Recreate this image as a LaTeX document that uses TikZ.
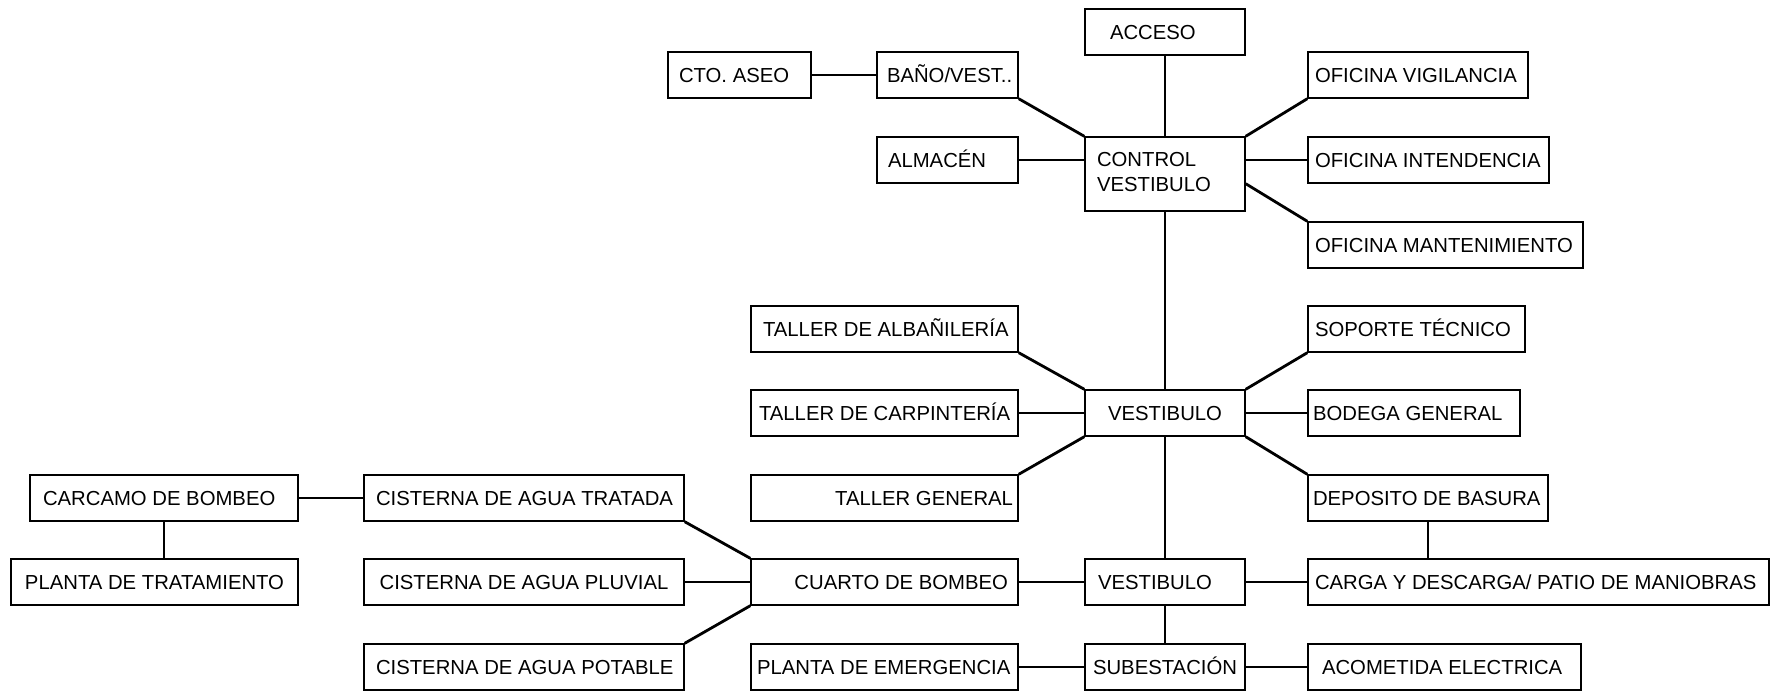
\documentclass[tikz,border=0pt]{standalone}
\usepackage{fontspec}
\setmainfont{Liberation Sans}
\tikzset{
  room/.style={draw, rectangle, line width=1.4pt, inner xsep=0pt, inner ysep=0pt,
    minimum height=46pt, text height=14.5pt, text depth=0pt,
    font=\fontsize{20.3pt}{25pt}\selectfont},
  roomtall/.style={draw, rectangle, line width=1.4pt, inner xsep=0pt, inner ysep=0pt,
    font=\fontsize{20.3pt}{25pt}\selectfont},
  link/.style={line width=2.8pt}
}
% name, cx, cy, W, H, text width, align (l/r/c), text
\newcommand\roomnode[8]{\node[room, minimum width=#4pt, minimum height=#5pt] (#1) at (#2,#3) {\makebox[#6pt][#7]{#8}};}
\begin{document}
\begin{tikzpicture}[x=1pt,y=-1pt]
\useasboundingbox (0,0) rectangle (1777,693);
\fill[white] (0,0) rectangle (1777,693);

% top group
\roomnode{cto}{739.5}{75}{143}{46}{121}{l}{CTO. ASEO}
\roomnode{bano}{947.5}{75}{141}{46}{121}{l}{BAÑO/VEST..}
\roomnode{acceso}{1165}{32}{160}{46}{110}{l}{ACCESO}
\roomnode{vigil}{1418}{75}{220}{46}{206}{l}{OFICINA VIGILANCIA}
\roomnode{almacen}{947.5}{160}{141}{46}{119}{l}{ALMACÉN}
\node[roomtall, minimum width=160pt, minimum height=74pt] (control) at (1165,174)
  {\makebox[136pt][l]{\begin{tabular}{@{}l@{}}CONTROL\\VESTIBULO\end{tabular}}};
\roomnode{intend}{1428.5}{160}{241}{46}{227}{l}{OFICINA INTENDENCIA}
\roomnode{mant}{1445.5}{245}{275}{46}{261}{l}{OFICINA MANTENIMIENTO}

% middle group
\roomnode{alba}{884.5}{329}{267}{46}{243}{l}{TALLER DE ALBAÑILERÍA}
\roomnode{soporte}{1416.5}{329}{217}{46}{203}{l}{SOPORTE TÉCNICO}
\roomnode{carp}{884.5}{413}{267}{46}{251}{l}{TALLER DE CARPINTERÍA}
\roomnode{vestA}{1165}{413}{160}{46}{160}{c}{VESTIBULO}
\roomnode{bodega}{1414}{413}{212}{46}{202}{l}{BODEGA GENERAL}
\roomnode{tgen}{884.5}{498}{267}{46}{257}{r}{TALLER GENERAL}
\roomnode{depos}{1428}{498}{240}{46}{230}{l}{DEPOSITO DE BASURA}

% lower group
\roomnode{carcamo}{164}{498}{268}{46}{242}{l}{CARCAMO DE BOMBEO}
\roomnode{tratada}{524}{498}{320}{46}{296}{l}{CISTERNA DE AGUA TRATADA}
\roomnode{ptrat}{154.5}{582}{287}{46}{287}{c}{PLANTA DE TRATAMIENTO}
\roomnode{pluvial}{524}{582}{320}{46}{320}{c}{CISTERNA DE AGUA PLUVIAL}
\roomnode{cuarto}{884.5}{582}{267}{46}{247}{r}{CUARTO DE BOMBEO}
\roomnode{vestB}{1165}{582}{160}{46}{134}{l}{VESTIBULO}
\roomnode{carga}{1538.5}{582}{461}{46}{447}{l}{CARGA Y DESCARGA/ PATIO DE MANIOBRAS}
\roomnode{potable}{524}{667}{320}{46}{296}{l}{CISTERNA DE AGUA POTABLE}
\roomnode{pemerg}{884.5}{667}{267}{46}{255}{l}{PLANTA DE EMERGENCIA}
\roomnode{subest}{1165}{667}{160}{46}{160}{c}{SUBESTACIÓN}
\roomnode{acomet}{1444.5}{667}{273}{46}{245}{l}{ACOMETIDA ELECTRICA}

% connectors: top
\draw[link] (cto.east) -- (bano.west);
\draw[link] (bano.south east) -- (control.north west);
\draw[link] (almacen.east) -- (almacen.east -| control.west);
\draw[link] (acceso.south) -- (control.north);
\draw[link] (control.north east) -- (vigil.south west);
\draw[link] (intend.west) -- (intend.west -| control.east);
\draw[link] (intend.south west -| control.east) -- (mant.north west);
\draw[link] (control.south) -- (vestA.north);

% connectors: middle
\draw[link] (alba.south east) -- (vestA.north west);
\draw[link] (carp.east) -- (vestA.west);
\draw[link] (tgen.north east) -- (vestA.south west);
\draw[link] (vestA.north east) -- (soporte.south west);
\draw[link] (vestA.east) -- (bodega.west);
\draw[link] (vestA.south east) -- (depos.north west);
\draw[link] (vestA.south) -- (vestB.north);
\draw[link] (depos.south) -- (depos.south |- carga.north);

% connectors: lower
\draw[link] (carcamo.east) -- (tratada.west);
\draw[link] (carcamo.south) -- (ptrat.north -| carcamo.south);
\draw[link] (tratada.south east) -- (cuarto.north west);
\draw[link] (pluvial.east) -- (cuarto.west);
\draw[link] (potable.north east) -- (cuarto.south west);
\draw[link] (cuarto.east) -- (vestB.west);
\draw[link] (vestB.east) -- (carga.west);
\draw[link] (vestB.south) -- (subest.north);
\draw[link] (pemerg.east) -- (subest.west);
\draw[link] (subest.east) -- (acomet.west);
\end{tikzpicture}
\end{document}
